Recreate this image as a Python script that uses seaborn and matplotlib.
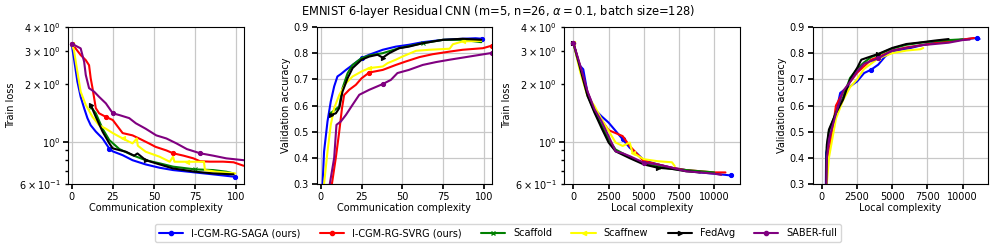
import pandas as pd
import matplotlib
matplotlib.use("Agg")
import matplotlib.pyplot as plt
import seaborn as sns

# -------------------- DATA --------------------
methods = ["I-CGM-RG-SAGA (ours)", "I-CGM-RG-SVRG (ours)", "Scaffold", "Scaffnew", "FedAvg", "SABER-full"]
colors = ["blue", "red", "green", "yellow", "black", "purple"]
markers = ["o", "o", "x", "<", ">", "o"]

# panel 1: train loss vs communication complexity
saga_comm_loss_x = [0, 1.4, 3.5, 5.5, 7.6, 9.6, 11.6, 14.7, 18.8, 22.9, 25, 31, 37, 45, 53.5, 61.6, 75, 86, 99]
saga_comm_loss = [3.26, 2.74, 2.07, 1.72, 1.50, 1.33, 1.22, 1.13, 1.04, 0.92, 0.89, 0.85, 0.80, 0.76, 0.73, 0.71, 0.69, 0.674, 0.655]
svrg_comm_loss_x = [0, 2.4, 5.5, 8.6, 10.6, 11.6, 12.7, 14.7, 16.7, 20.8, 25, 29, 31, 37, 41, 47, 51, 57.6, 61.6, 68, 74, 78, 84, 92, 98.4, 104.5]
svrg_comm_loss = [3.26, 3.09, 2.85, 2.68, 2.52, 2.15, 1.91, 1.50, 1.41, 1.35, 1.30, 1.17, 1.11, 1.08, 1.04, 0.98, 0.94, 0.90, 0.87, 0.845, 0.818, 0.79, 0.786, 0.786, 0.78, 0.748]
scaffold_comm_loss_x = [11.6, 14.7, 18.8, 22.9, 29, 37, 45, 53.5, 61.6, 75, 86, 94, 98.4]
scaffold_comm_loss = [1.53, 1.41, 1.17, 1.02, 0.915, 0.85, 0.80, 0.77, 0.74, 0.716, 0.71, 0.696, 0.682]
scaffnew_comm_loss_x = [0, 1.4, 3.5, 5.5, 8.6, 12.7, 16.7, 20.8, 25, 31, 37, 39.6, 40.2, 45, 53.5, 59.6, 61.6, 62.5, 70, 78, 80.4, 81, 88, 99.4]
scaffnew_comm_loss = [3.26, 3.03, 2.33, 1.83, 1.56, 1.35, 1.22, 1.17, 1.11, 1.04, 0.98, 1.04, 0.953, 0.886, 0.834, 0.785, 0.834, 0.785, 0.785, 0.785, 0.785, 0.71, 0.696, 0.682]
fedavg_comm_loss_x = [11.6, 14.7, 18.8, 22.9, 25, 29, 33, 38, 40, 45, 53.5, 61.6, 75, 86, 98.4]
fedavg_comm_loss = [1.56, 1.35, 1.13, 0.98, 0.923, 0.904, 0.886, 0.845, 0.868, 0.80, 0.76, 0.724, 0.696, 0.682, 0.674]
saber_comm_loss_x = [0, 2.4, 5.5, 7.6, 8.6, 10.6, 13.7, 16.7, 20.8, 25, 29, 35, 39, 45, 51.4, 57.6, 63.7, 70, 78, 86, 94, 104.5]
saber_comm_loss = [3.26, 3.19, 3.09, 2.63, 2.24, 1.91, 1.83, 1.72, 1.59, 1.41, 1.38, 1.33, 1.25, 1.17, 1.08, 1.04, 0.98, 0.915, 0.87, 0.845, 0.818, 0.80]

# panel 2: validation accuracy vs communication complexity
saga_comm_acc_x = [0, 2, 4.1, 6.1, 8.2, 10.2, 12.3, 15.4, 19.5, 25, 29.7, 38, 46, 54, 62.5, 75, 87, 95, 99]
saga_comm_acc = [0.15, 0.424, 0.539, 0.615, 0.673, 0.711, 0.72, 0.736, 0.755, 0.781, 0.794, 0.813, 0.825, 0.832, 0.842, 0.851, 0.855, 0.857, 0.855]
svrg_comm_acc_x = [5, 6.8, 9.2, 11.3, 13, 14.3, 17.4, 21.5, 25, 29.7, 38, 46, 52, 60.5, 68.6, 79, 87, 99.4, 105]
svrg_comm_acc = [0.1, 0.3, 0.4, 0.5, 0.59, 0.64, 0.66, 0.679, 0.704, 0.726, 0.736, 0.755, 0.768, 0.785, 0.796, 0.806, 0.813, 0.819, 0.829]
scaffold_comm_acc_x = [6.1, 11.3, 13.3, 16.4, 19.5, 25, 29.7, 38, 48, 62.5, 75, 87, 98.4]
scaffold_comm_acc = [0.571, 0.596, 0.666, 0.723, 0.755, 0.781, 0.791, 0.80, 0.819, 0.838, 0.851, 0.851, 0.842]
scaffnew_comm_acc_x = [0.5, 2, 4.1, 6.1, 8.2, 11.3, 15.4, 19.5, 25, 29.7, 38, 41, 46, 50, 58.4, 66.6, 79, 81, 87, 98.4]
scaffnew_comm_acc = [0.15, 0.3, 0.424, 0.526, 0.59, 0.64, 0.685, 0.711, 0.73, 0.743, 0.749, 0.762, 0.775, 0.787, 0.809, 0.813, 0.817, 0.834, 0.845, 0.847]
fedavg_comm_acc_x = [6.1, 9.2, 11.3, 13.3, 16.4, 19.5, 25, 29.7, 34.8, 38, 42, 48, 54, 62.5, 75, 87, 98.4]
fedavg_comm_acc = [0.564, 0.57, 0.59, 0.653, 0.704, 0.743, 0.775, 0.787, 0.794, 0.783, 0.80, 0.819, 0.825, 0.838, 0.851, 0.855, 0.851]
saber_comm_acc_x = [4, 5.5, 8.2, 9.6, 12.3, 15.4, 19.5, 23.6, 29.7, 38, 43, 47, 54, 62.5, 70.7, 79, 87, 95, 105]
saber_comm_acc = [0.1, 0.3, 0.4, 0.526, 0.539, 0.564, 0.603, 0.641, 0.66, 0.682, 0.698, 0.724, 0.736, 0.755, 0.766, 0.775, 0.783, 0.791, 0.801]

# panel 3: train loss vs local complexity
saga_local_loss_x = [0, 300, 500, 700, 1000, 1500, 2000, 2500, 3000, 3500, 4000, 4500, 5000, 6000, 7000, 8000, 9000, 10000, 11200]
saga_local_loss = [3.3, 2.7, 2.49, 2.4, 1.81, 1.48, 1.36, 1.26, 1.14, 1.03, 0.93, 0.87, 0.80, 0.76, 0.73, 0.71, 0.69, 0.68, 0.665]
svrg_local_loss_x = [0, 500, 1000, 1500, 2000, 2500, 3000, 3500, 4000, 5000, 6000, 7000, 8000, 9000, 10000, 10800]
svrg_local_loss = [3.3, 2.45, 1.82, 1.47, 1.30, 1.15, 1.11, 1.07, 0.95, 0.79, 0.76, 0.73, 0.71, 0.70, 0.69, 0.69]
scaffold_local_loss_x = [0, 500, 1000, 1500, 2000, 2500, 3000, 4000, 5000, 6000, 7000, 8000, 9000, 10000]
scaffold_local_loss = [3.3, 2.4, 1.76, 1.44, 1.22, 1.03, 0.91, 0.83, 0.77, 0.74, 0.72, 0.71, 0.70, 0.69]
scaffnew_local_loss_x = [0, 500, 1000, 1500, 2000, 2500, 3000, 3500, 4000, 4200, 5000, 6000, 7000, 7200]
scaffnew_local_loss = [3.3, 2.3, 1.74, 1.54, 1.31, 1.14, 0.99, 0.95, 0.99, 0.875, 0.81, 0.79, 0.78, 0.745]
fedavg_local_loss_x = [0, 500, 1000, 1500, 2000, 2500, 3000, 4000, 5000, 6000, 7000, 8000, 9000]
fedavg_local_loss = [3.3, 2.4, 1.74, 1.42, 1.18, 0.99, 0.89, 0.82, 0.76, 0.73, 0.72, 0.70, 0.69]
saber_local_loss_x = [0, 500, 1000, 1500, 2000, 2500, 3000, 3500, 4000, 5000, 6000, 7000, 8000, 9000, 10000, 10500]
saber_local_loss = [3.3, 2.49, 1.84, 1.48, 1.28, 1.07, 0.89, 0.87, 0.84, 0.776, 0.76, 0.73, 0.70, 0.69, 0.68, 0.67]

# panel 4: validation accuracy vs local complexity
saga_local_acc_x = [250, 300, 700, 1000, 1300, 1600, 2000, 2500, 3000, 3500, 4000, 4500, 5000, 6000, 7000, 8000, 9000, 10000, 11000, 11200]
saga_local_acc = [0.1, 0.42, 0.50, 0.571, 0.648, 0.66, 0.673, 0.692, 0.724, 0.737, 0.756, 0.788, 0.807, 0.816, 0.829, 0.841, 0.845, 0.852, 0.858, 0.854]
svrg_local_acc_x = [250, 350, 600, 1000, 1500, 2000, 2500, 3000, 3500, 4000, 5000, 6000, 7000, 8000, 9000, 10000, 10800]
svrg_local_acc = [0.1, 0.38, 0.45, 0.60, 0.65, 0.69, 0.725, 0.75, 0.775, 0.785, 0.81, 0.822, 0.83, 0.838, 0.845, 0.852, 0.858]
scaffold_local_acc_x = [250, 350, 500, 1000, 1500, 2000, 2500, 3000, 3500, 4000, 5000, 6000, 7000, 8000, 9000, 10000]
scaffold_local_acc = [0.1, 0.44, 0.50, 0.575, 0.63, 0.705, 0.74, 0.765, 0.785, 0.795, 0.818, 0.832, 0.84, 0.846, 0.85, 0.853]
scaffnew_local_acc_x = [250, 350, 500, 1000, 1500, 2000, 2500, 3000, 3500, 4000, 5000, 6000, 7000, 7200]
scaffnew_local_acc = [0.1, 0.3, 0.40, 0.55, 0.62, 0.67, 0.70, 0.74, 0.76, 0.78, 0.80, 0.81, 0.815, 0.82]
fedavg_local_acc_x = [250, 350, 500, 1000, 1500, 2000, 2500, 2800, 3500, 4000, 5000, 6000, 7000, 8000, 9000]
fedavg_local_acc = [0.1, 0.45, 0.508, 0.571, 0.622, 0.699, 0.743, 0.775, 0.788, 0.797, 0.82, 0.835, 0.841, 0.848, 0.854]
saber_local_acc_x = [250, 350, 500, 1000, 1500, 2000, 2500, 3000, 3500, 4000, 5000, 6000, 7000, 8000, 9000, 10000, 10500]
saber_local_acc = [0.1, 0.40, 0.47, 0.57, 0.655, 0.69, 0.73, 0.76, 0.77, 0.78, 0.81, 0.82, 0.83, 0.835, 0.84, 0.85, 0.852]

panels = [
    [(saga_comm_loss_x, saga_comm_loss), (svrg_comm_loss_x, svrg_comm_loss), (scaffold_comm_loss_x, scaffold_comm_loss),
     (scaffnew_comm_loss_x, scaffnew_comm_loss), (fedavg_comm_loss_x, fedavg_comm_loss), (saber_comm_loss_x, saber_comm_loss)],
    [(saga_comm_acc_x, saga_comm_acc), (svrg_comm_acc_x, svrg_comm_acc), (scaffold_comm_acc_x, scaffold_comm_acc),
     (scaffnew_comm_acc_x, scaffnew_comm_acc), (fedavg_comm_acc_x, fedavg_comm_acc), (saber_comm_acc_x, saber_comm_acc)],
    [(saga_local_loss_x, saga_local_loss), (svrg_local_loss_x, svrg_local_loss), (scaffold_local_loss_x, scaffold_local_loss),
     (scaffnew_local_loss_x, scaffnew_local_loss), (fedavg_local_loss_x, fedavg_local_loss), (saber_local_loss_x, saber_local_loss)],
    [(saga_local_acc_x, saga_local_acc), (svrg_local_acc_x, svrg_local_acc), (scaffold_local_acc_x, scaffold_local_acc),
     (scaffnew_local_acc_x, scaffnew_local_acc), (fedavg_local_acc_x, fedavg_local_acc), (saber_local_acc_x, saber_local_acc)],
]
xlabels = ["Communication complexity", "Communication complexity", "Local complexity", "Local complexity"]
ylabels = ["Train loss", "Validation accuracy", "Train loss", "Validation accuracy"]

# -------------------- PLOT --------------------
sns.set_theme(style="ticks", rc={
    "axes.grid": True, "grid.color": "#c8c8c8", "grid.linewidth": 0.9,
    "axes.edgecolor": "black", "axes.linewidth": 0.8,
    "xtick.color": "black", "ytick.color": "black", "text.color": "black", "axes.labelcolor": "black",
    "xtick.labelsize": 7, "ytick.labelsize": 7, "axes.labelsize": 7, "legend.fontsize": 7,
    "xtick.major.size": 3.5, "ytick.major.size": 3.5, "ytick.minor.size": 2,
})
plt.rcParams["font.family"] = ["DejaVu Sans"]

fig = plt.figure(figsize=(9.96, 2.5), dpi=100)
lefts = [0.0686, 0.318, 0.5665, 0.816]
axes = [fig.add_axes([l, 0.264, 0.176, 0.628]) for l in lefts]

for i, ax in enumerate(axes):
    for j, (xs, ys) in enumerate(panels[i]):
        df = pd.DataFrame({"x": xs, "y": ys})
        sns.lineplot(data=df, x="x", y="y", ax=ax, color=colors[j], marker=markers[j],
                     markersize=3, markevery=9, linewidth=1.5, label=methods[j],
                     sort=False, legend=False, markeredgecolor=colors[j])
    ax.set_xlabel(xlabels[i], labelpad=1)
    ax.set_ylabel(ylabels[i], labelpad=2)
    if i % 2 == 0:
        ax.set_yscale("log")
        ax.set_ylim(0.6, 4)
    else:
        ax.set_ylim(0.3, 0.9)
    ax.tick_params(pad=2)

axes[0].set_xlim(-2, 104.5)
axes[1].set_xlim(-2.5, 105)
axes[2].set_xlim(-650, 11800)
axes[3].set_xlim(-650, 11800)
axes[0].set_xticks([0, 25, 50, 75, 100])
axes[1].set_xticks([0, 25, 50, 75, 100])
axes[2].set_xticks([0, 2500, 5000, 7500, 10000])
axes[3].set_xticks([0, 2500, 5000, 7500, 10000])

handles = [plt.Line2D([], [], color=c, marker=m, markersize=3, linewidth=1.5) for c, m in zip(colors, markers)]
fig.legend(handles, methods, loc="center", bbox_to_anchor=(0.5, 0.068), ncol=6,
           frameon=True, handlelength=2.5, columnspacing=2.0, borderpad=0.4)

fig.suptitle(r"EMNIST 6-layer Residual CNN (m=5, n=26, $\alpha=0.1$, batch size=128)", fontsize=8.3, y=0.986)

plt.savefig("out.png", dpi=100)
